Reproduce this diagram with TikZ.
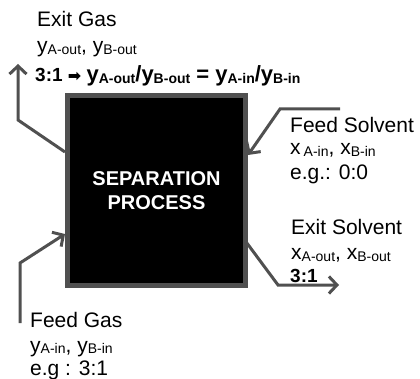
\documentclass[tikz,border=0pt]{standalone}
\usepackage{fontspec}
\setmainfont{Liberation Sans}
\newfontfamily\symfont{DejaVu Sans}
\usetikzlibrary{arrows.meta}
\definecolor{linegray}{RGB}{80,80,80}
\newcommand{\lowsub}[1]{\raisebox{-1.5pt}{\fontsize{14}{14}\selectfont #1}}
\begin{document}
\begin{tikzpicture}[x=1pt,y=-1pt,
  flow/.style={draw=linegray, line width=3pt, line join=miter,
    -{Straight Barb[length=8pt,width=17pt,line width=3pt]}},
  lbl/.style={anchor=base west, inner sep=0pt, font=\fontsize{21}{21}\selectfont},
  sublbl/.style={anchor=base west, inner sep=0pt, font=\fontsize{21}{21}\selectfont},
  boldlbl/.style={anchor=base west, inner sep=0pt, font=\bfseries\fontsize{19}{19}\selectfont},
  procbox/.style={draw=linegray, fill=black, line width=5pt,
    minimum width=178pt, minimum height=190pt, inner sep=0pt,
    text=white, align=center, font=\bfseries\fontsize{20}{24}\selectfont}]
\useasboundingbox (0,0) rectangle (420,379);

% process box
\node[procbox] (box) at (156.5,190.5) {SEPARATION\\PROCESS};

% labels
\node[lbl] (exitgas) at (37,27) {Exit Gas};
\node[sublbl] (exitgasy) at (37,53) {y\lowsub{A-out}, y\lowsub{B-out}};
\node[boldlbl] (ratio) at (35,82) {3:1 {\symfont\fontsize{16}{16}\selectfont\raisebox{0.5pt}{➡}} {\fontsize{22}{22}\selectfont y\lowsub{A-out}/y\lowsub{B-out} = y\lowsub{A-in}/y\lowsub{B-in}}};

\node[lbl] (feedsolv) at (290,133) {Feed Solvent};
\node[sublbl] (feedsolvx) at (290,155) {x\hspace{3pt}\lowsub{A-in}, x\lowsub{B-in}};
\node[lbl] (feedsolveg) at (290,180) {e.g.: 0:0};

\node[lbl] (exitsolv) at (291,235) {Exit Solvent};
\node[sublbl] (exitsolvx) at (291,260) {x\lowsub{A-out}, x\lowsub{B-out}};
\node[boldlbl] (exitsolvr) at (290,283) {3:1};

\node[lbl] (feedgas) at (30,327) {Feed Gas};
\node[sublbl] (feedgasy) at (30,352) {y\lowsub{A-in}, y\lowsub{B-in}};
\node[lbl] (feedgaseg) at (30,375) {e.g : 3:1};

% connector bends
\coordinate (egbend) at (18,120);
\coordinate (egend) at (18,64);
\coordinate (fsstart) at (340,109);
\coordinate (fsbend) at (280,109);
\coordinate (esbend) at (278,285);
\coordinate (esend) at (339,285);
\coordinate (fgstart) at (20,323);
\coordinate (fgbend) at (20,263);

% connectors
\draw[flow] ([yshift=38.5pt]box.west) -- (egbend) -- (egend);
\draw[flow] (fsstart) -- (fsbend) -- ([yshift=35.5pt]box.east);
\draw[flow] ([yshift=-50pt,xshift=-3pt]box.east) -- (esbend) -- (esend);
\draw[flow] (fgstart) -- (fgbend) -- ([yshift=-43.5pt]box.west);
\end{tikzpicture}
\end{document}
